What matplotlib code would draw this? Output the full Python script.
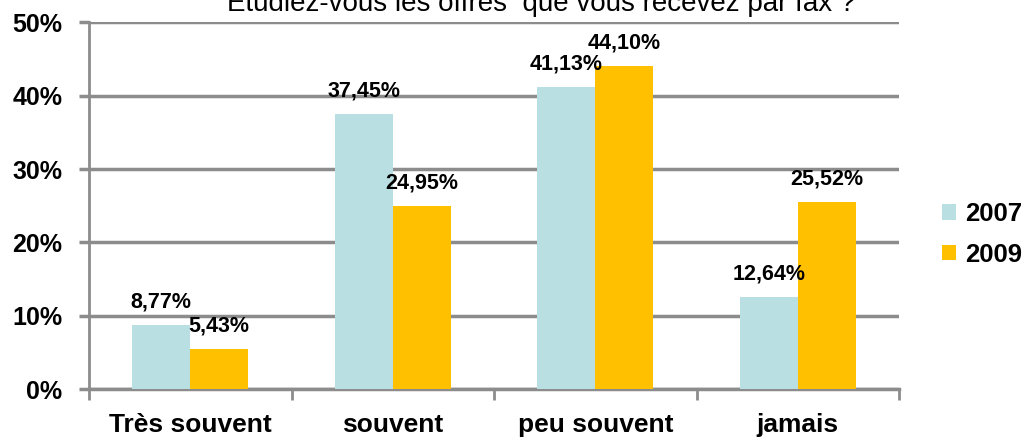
import numpy as np
import matplotlib
matplotlib.use('Agg')
import matplotlib.pyplot as plt

categories = ['Très souvent', 'souvent', 'peu souvent', 'jamais']
years = ['2007', '2009']
vals_2007 = [8.77, 37.45, 41.13, 12.64]
vals_2009 = [5.43, 24.95, 44.10, 25.52]
labels_2007 = ['8,77%', '37,45%', '41,13%', '12,64%']
labels_2009 = ['5,43%', '24,95%', '44,10%', '25,52%']
yticks = [0, 10, 20, 30, 40, 50]

plt.rcParams['font.family'] = ['Liberation Sans', 'DejaVu Sans']

fig = plt.figure(figsize=(10.26, 4.44), dpi=100)
ax = fig.add_axes([89/1026, 54.7/444, 810/1026, 367/444])

x = np.arange(len(categories))
w = 0.286
c07 = '#B9DFE3'
c09 = '#FFC000'
ax.bar(x - w/2, vals_2007, w, color=c07, label=years[0], zorder=3)
ax.bar(x + w/2, vals_2009, w, color=c09, label=years[1], zorder=3)

for xi, v, t in zip(x - w/2, vals_2007, labels_2007):
    ax.annotate(t, (xi, v), xytext=(0, 23), textcoords='offset pixels',
                ha='center', va='center', fontsize=15.5, fontweight='bold', zorder=5)
for xi, v, t in zip(x + w/2, vals_2009, labels_2009):
    ax.annotate(t, (xi, v), xytext=(0, 23), textcoords='offset pixels',
                ha='center', va='center', fontsize=15.5, fontweight='bold', zorder=5)

ax.set_xlim(-0.5, 3.5)
ax.set_ylim(0, 50)
ax.set_yticks(yticks)
ax.set_yticklabels([f'{v}%' for v in yticks], fontsize=18, fontweight='bold')
ax.yaxis.grid(True, color='#8C8C8C', linewidth=2.5, zorder=1)
ax.tick_params(axis='y', length=7, width=2.5, color='#8C8C8C', pad=12)

ax.set_xticks(np.arange(-0.5, 4, 1))
ax.set_xticklabels([])
ax.set_xticks(x, minor=True)
ax.set_xticklabels(categories, minor=True, fontsize=19, fontweight='bold')
ax.tick_params(axis='x', which='major', length=8, width=2, color='#8C8C8C', direction='out')
ax.tick_params(axis='x', which='minor', length=0, pad=17)

for s in ['top', 'right']:
    ax.spines[s].set_visible(False)
ax.spines['left'].set_color('#8C8C8C')
ax.spines['left'].set_linewidth(2)
ax.spines['bottom'].set_color('#8C8C8C')
ax.spines['bottom'].set_linewidth(2.5)

ax.legend(loc='center left', bbox_to_anchor=(1.031, 0.422), frameon=False,
          prop={'size': 18.5, 'weight': 'bold'}, handlelength=0.55, handleheight=0.55,
          handletextpad=0.35, labelspacing=0.65, borderpad=0.2)

fig.text(0.527, 1 - 4/444, 'Etudiez-vous les offres  que vous recevez par fax ?',
         ha='center', va='center', fontsize=20)

fig.savefig('out.png', dpi=100)
